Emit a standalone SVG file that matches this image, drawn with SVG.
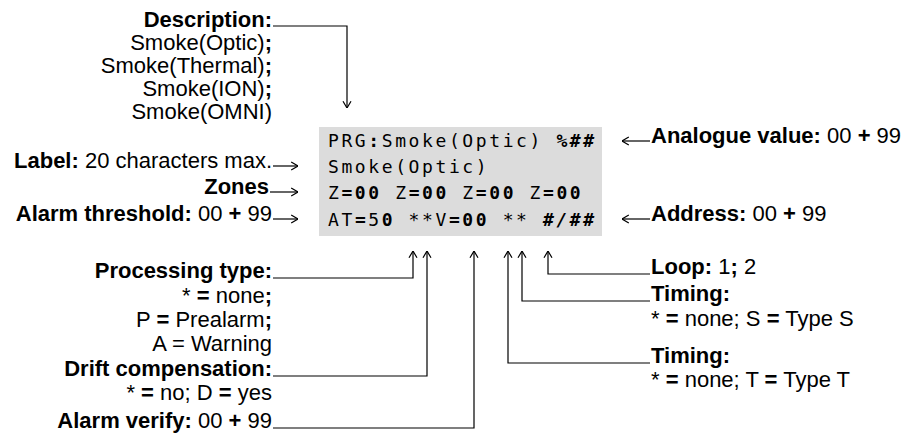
<svg xmlns="http://www.w3.org/2000/svg" width="909" height="433" viewBox="0 0 909 433">
<style>
 text{font-family:"Liberation Sans",Arial,sans-serif;font-size:22px;fill:#000}
 .r{text-anchor:end}
 .b{font-weight:bold}
 .m{font-family:"DejaVu Sans Mono","Liberation Mono",monospace;font-size:18px;letter-spacing:2.6px}
 .i{font-style:italic;font-weight:bold}
 .c{fill:none;stroke:#000;stroke-width:1.2}
</style>
<defs>
 <marker id="ah" viewBox="0 0 8 10" refX="7.6" refY="5" markerWidth="8" markerHeight="10" markerUnits="userSpaceOnUse" orient="auto">
  <path d="M0.8,1 L7.6,5 L0.8,9" fill="none" stroke="#000" stroke-width="1.2"/>
 </marker>
</defs>
<rect width="909" height="433" fill="#fff"/>

<g id="display">
 <rect x="319" y="127" width="283" height="109" fill="#dcdcdc"/>
 <text class="m" x="328" y="147">PRG<tspan class="b">:</tspan>Smoke(Optic) <tspan class="i">%##</tspan></text>
 <text class="m" x="328" y="173">Smoke(Optic)</text>
 <text class="m" x="328" y="199">Z<tspan class="b">=00</tspan> Z<tspan class="b">=00</tspan> Z<tspan class="b">=00</tspan> Z<tspan class="b">=00</tspan></text>
 <text class="m" x="328" y="226">AT<tspan class="b">=</tspan>5<tspan class="b">0</tspan> **V<tspan class="b">=00</tspan> ** <tspan class="i">#/##</tspan></text>
</g>

<g id="description">
 <text class="r b" x="272" y="27">Description:</text>
 <text class="r" x="272" y="50">Smoke(Optic)<tspan class="b">;</tspan></text>
 <text class="r" x="272" y="73">Smoke(Thermal)<tspan class="b">;</tspan></text>
 <text class="r" x="272" y="96">Smoke(ION)<tspan class="b">;</tspan></text>
 <text class="r" x="272" y="119">Smoke(OMNI)</text>
</g>

<g id="label">
 <text class="r" x="272" y="168"><tspan class="b">Label:</tspan> 20 characters max.</text>
</g>
<g id="zones">
 <text class="r b" x="269" y="194">Zones</text>
</g>
<g id="alarm-threshold">
 <text class="r" x="272" y="221"><tspan class="b">Alarm threshold:</tspan> 00 <tspan class="b">+</tspan> 99</text>
</g>

<g id="analogue-value">
 <text x="651" y="143"><tspan class="b">Analogue value:</tspan> 00 <tspan class="b">+</tspan> 99</text>
</g>
<g id="address">
 <text x="651" y="221"><tspan class="b">Address:</tspan> 00 <tspan class="b">+</tspan> 99</text>
</g>

<g id="processing-type">
 <text class="r b" x="272" y="278">Processing type:</text>
 <text class="r" x="272" y="303">* <tspan class="b">=</tspan> none<tspan class="b">;</tspan></text>
 <text class="r" x="272" y="327">P <tspan class="b">=</tspan> Prealarm<tspan class="b">;</tspan></text>
 <text class="r" x="272" y="351">A = Warning</text>
</g>
<g id="drift-compensation">
 <text class="r b" x="272" y="376">Drift compensation:</text>
 <text class="r" x="272" y="400">* <tspan class="b">=</tspan> no; D <tspan class="b">=</tspan> yes</text>
</g>
<g id="alarm-verify">
 <text class="r" x="272" y="428"><tspan class="b">Alarm verify:</tspan> 00 <tspan class="b">+</tspan> 99</text>
</g>

<g id="loop">
 <text x="651" y="274"><tspan class="b">Loop:</tspan> 1<tspan class="b">;</tspan> 2</text>
</g>
<g id="timing-s">
 <text class="b" x="651" y="301">Timing:</text>
 <text x="651" y="326">* <tspan class="b">=</tspan> none; S <tspan class="b">=</tspan> Type S</text>
</g>
<g id="timing-t">
 <text class="b" x="651" y="363">Timing:</text>
 <text x="651" y="387">* <tspan class="b">=</tspan> none; T <tspan class="b">=</tspan> Type T</text>
</g>

<g id="connectors" class="c">
 <path class="c" d="M273,26 H347 V108" marker-end="url(#ah)"/>
 <path class="c" d="M273,166 H298" marker-end="url(#ah)"/>
 <path class="c" d="M270,192 H298" marker-end="url(#ah)"/>
 <path class="c" d="M273,219 H298" marker-end="url(#ah)"/>
 <path class="c" d="M650,141 H622" marker-end="url(#ah)"/>
 <path class="c" d="M650,219 H622" marker-end="url(#ah)"/>
 <path class="c" d="M273,278 H413 V251" marker-end="url(#ah)"/>
 <path class="c" d="M273,376 H427 V251" marker-end="url(#ah)"/>
 <path class="c" d="M273,428 H474 V251" marker-end="url(#ah)"/>
 <path class="c" d="M650,274 H548 V251" marker-end="url(#ah)"/>
 <path class="c" d="M650,301 H522 V251" marker-end="url(#ah)"/>
 <path class="c" d="M650,363 H508 V251" marker-end="url(#ah)"/>
</g>
</svg>
